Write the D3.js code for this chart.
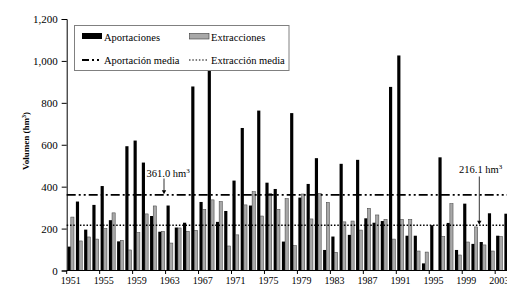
<!DOCTYPE html>
<html><head><meta charset="utf-8">
<script src="https://cdn.jsdelivr.net/npm/d3@7"></script>
<style>body{margin:0;background:#fff;}svg{display:block;font-family:"Liberation Serif","Times New Roman",serif;}</style>
</head><body>
<svg id="c" width="507" height="297"></svg>
<script>
const years = d3.range(1951, 2005);
const aportaciones = [114,329,195,313,403,240,139,593,620,515,260,185,310,205,228,878,327,965,232,284,429,680,310,763,419,389,138,751,348,413,536,98,162,509,170,528,249,228,236,876,1026,166,166,34,216,540,227,98,319,127,136,273,166,271];
const extracciones = [255,141,160,150,201,275,144,98,181,270,308,187,131,203,187,192,292,337,329,117,170,313,376,260,368,292,343,119,365,246,368,325,87,232,236,193,297,265,244,150,244,244,93,88,0,163,319,74,136,208,122,93,162,160];
const yTicks = [0,200,400,600,800,1000,1200];
const mediaAport = 361.0, mediaExtr = 216.1;
const xLabels = years.filter((d,i)=>i%4===0);

const svg = d3.select("#c");
const x = d3.scaleBand().domain(years).range([66.7, 66.7+54*8.24]).padding(0);
const sub = d3.scaleBand().domain(["a","e"]).range([0, x.bandwidth()]).paddingInner(0).paddingOuter(0.3);
const y = d3.scaleLinear().domain([0,1200]).range([270.5,19]);

const g = svg.append("g");
g.selectAll("rect.a").data(years).join("rect")
  .attr("x", d=>x(d)+sub("a")).attr("width", sub.bandwidth())
  .attr("y", (d,i)=>y(aportaciones[i])).attr("height",(d,i)=>y(0)-y(aportaciones[i]))
  .attr("fill","#000");
g.selectAll("rect.e").data(years).join("rect")
  .attr("x", d=>x(d)+sub("e")).attr("width", sub.bandwidth())
  .attr("y", (d,i)=>y(extracciones[i])).attr("height",(d,i)=>y(0)-y(extracciones[i]))
  .attr("fill","#a8a8a8").attr("stroke","#3a3a3a").attr("stroke-width",0.5);

g.append("line").attr("x1",66.7).attr("x2",512).attr("y1",y(mediaAport)).attr("y2",y(mediaAport))
  .attr("stroke","#000").attr("stroke-width",1.8).attr("stroke-dasharray","9,3,2,3,2,3");
g.append("line").attr("x1",66.7).attr("x2",512).attr("y1",y(mediaExtr)).attr("y2",y(mediaExtr))
  .attr("stroke","#000").attr("stroke-width",1.4).attr("stroke-dasharray","1.5,1.8");

const yAxis = d3.axisLeft(y).tickValues(yTicks).tickSize(5).tickFormat(d3.format(","));
const ya = svg.append("g").attr("transform","translate(66.7,0)").call(yAxis);
ya.selectAll("text").attr("font-size",11).attr("fill","#000").attr("font-family","Liberation Serif").attr("dx",-1);
ya.select(".domain").attr("stroke","#000");
ya.selectAll(".tick line").attr("stroke","#000");

const xa = svg.append("g").attr("transform","translate(0,270.5)");
xa.append("line").attr("x1",66.7).attr("x2",512).attr("stroke","#000");
xa.selectAll("line.t").data(xLabels).join("line").attr("class","t")
  .attr("x1",d=>x(d)).attr("x2",d=>x(d)).attr("y1",0).attr("y2",3.5).attr("stroke","#000");
xa.selectAll("text").data(xLabels).join("text")
  .attr("x",d=>x(d)+x.bandwidth()/2).attr("y",13.5).attr("text-anchor","middle")
  .attr("font-size",10).text(d=>d);

svg.append("text").attr("transform","translate(28.5,141) rotate(-90)").attr("text-anchor","middle")
  .attr("font-size",9).attr("font-weight","bold").html('Volumen (hm<tspan font-size="6" dy="-3">3</tspan><tspan dy="3">)</tspan>');

function annot(tx, ty, ax, ay1, ay2, label){
  svg.append("text").attr("x",tx).attr("y",ty).attr("font-size",10.5)
    .html(label+' hm<tspan font-size="7" dy="-4">3</tspan>');
  svg.append("line").attr("x1",ax).attr("x2",ax).attr("y1",ay1).attr("y2",ay2-3).attr("stroke","#000").attr("stroke-width",0.8);
  svg.append("path").attr("d",`M${ax-2.2},${ay2-4}L${ax+2.2},${ay2-4}L${ax},${ay2}Z`).attr("fill","#000");
}
annot(146.5, 176.5, 164, 178.5, y(mediaAport)-0.5, "361.0");
annot(459, 173, 479.3, 176.5, y(mediaExtr)-0.5, "216.1");

const lg = svg.append("g");
lg.append("rect").attr("x",74.5).attr("y",25.5).attr("width",214.5).attr("height",45)
  .attr("fill","#fff").attr("stroke","#808080").attr("stroke-width",1);
lg.append("rect").attr("x",82).attr("y",33).attr("width",20).attr("height",6).attr("fill","#000");
lg.append("text").attr("x",104).attr("y",40.5).attr("font-size",10.5).text("Aportaciones");
lg.append("rect").attr("x",189.5).attr("y",33.5).attr("width",19.5).attr("height",5.5)
  .attr("fill","#a8a8a8").attr("stroke","#3a3a3a").attr("stroke-width",0.6);
lg.append("text").attr("x",211).attr("y",40.5).attr("font-size",10.5).text("Extracciones");
lg.append("line").attr("x1",82).attr("x2",102).attr("y1",60).attr("y2",60)
  .attr("stroke","#000").attr("stroke-width",1.8).attr("stroke-dasharray","7,3,2,3,2,3");
lg.append("text").attr("x",104).attr("y",63.5).attr("font-size",10.5).text("Aportación media");
lg.append("line").attr("x1",189).attr("x2",208).attr("y1",60).attr("y2",60)
  .attr("stroke","#000").attr("stroke-width",1.2).attr("stroke-dasharray","1.5,1.8");
lg.append("text").attr("x",211).attr("y",63.5).attr("font-size",10.5).text("Extracción media");
</script>
</body></html>
